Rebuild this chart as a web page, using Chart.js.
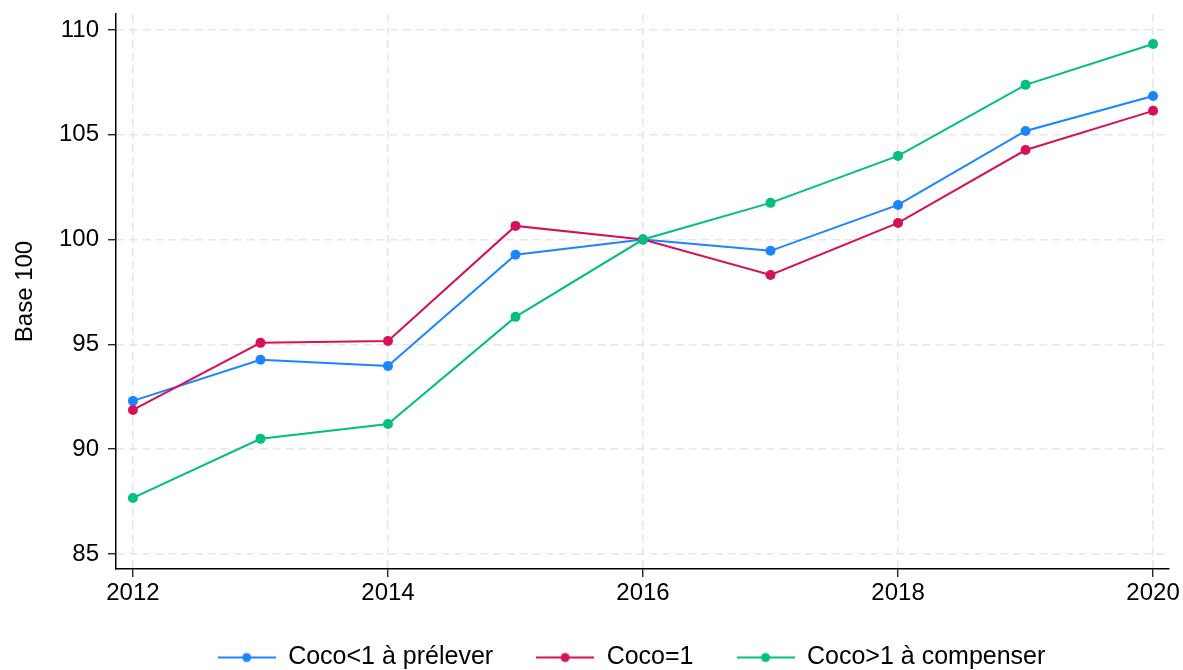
<!DOCTYPE html>
<html>
<head>
<meta charset="utf-8">
<script src="https://cdn.jsdelivr.net/npm/chart.js@4.4.1/dist/chart.umd.min.js"></script>
<style>
  html, body { margin: 0; padding: 0; background: #fff; }
  #wrap { width: 1183px; height: 670px; }
</style>
</head>
<body>
<div id="wrap"><canvas id="chart" width="1183" height="670"></canvas></div>
<script>
// Data (base 100 = 2016)
const years = [2012, 2013, 2014, 2015, 2016, 2017, 2018, 2019, 2020];
const cocoBelow = [92.30, 94.26, 93.97, 99.27, 100, 99.46, 101.65, 105.18, 106.85];
const cocoEqual = [91.87, 95.07, 95.16, 100.65, 100, 98.31, 100.79, 104.27, 106.14];
const cocoAbove = [87.67, 90.49, 91.20, 96.31, 100, 101.75, 103.99, 107.38, 109.33];

const xTicks = [2012, 2014, 2016, 2018, 2020];
const yTicks = [85, 90, 95, 100, 105, 110];

const COLORS = {
  below: '#1a85ff',
  equal: '#d41159',
  above: '#00bf7f',
};

const FONT = 'Liberation Sans, Arial, Helvetica, sans-serif';

/** Small line-with-dot swatch for the legend. */
function legendSwatch(color) {
  const c = document.createElement('canvas');
  c.width = 58;
  c.height = 12;
  const ctx = c.getContext('2d');
  ctx.strokeStyle = color;
  ctx.lineWidth = 2;
  ctx.beginPath();
  ctx.moveTo(0, 6);
  ctx.lineTo(58, 6);
  ctx.stroke();
  ctx.fillStyle = color;
  ctx.beginPath();
  ctx.arc(29, 6, 4.5, 0, Math.PI * 2);
  ctx.fill();
  return c;
}

function series(label, values, color, order) {
  return {
    label,
    data: years.map((y, i) => ({ x: y, y: values[i] })),
    borderColor: color,
    backgroundColor: color,
    pointBackgroundColor: color,
    pointBorderWidth: 0,
    pointRadius: 5,
    pointStyle: 'circle',
    borderWidth: 2,
    tension: 0,
    order,
  };
}

const gridCommon = {
  color: '#e6e6e6',
  lineWidth: 1.5,
  tickColor: '#000',
  tickLength: 8,
  tickWidth: 1.2,
  tickBorderDash: [],
};

// Nudge the legend a little left of the plot-area centre, as in the original
const legendShift = {
  id: 'legendShift',
  afterLayout(chart) {
    if (chart.legend) {
      chart.legend.left -= 11;
      chart.legend.right -= 11;
    }
  },
};

new Chart(document.getElementById('chart'), {
  type: 'line',
  data: {
    datasets: [
      series('Coco<1 à prélever', cocoBelow, COLORS.below, 3),
      series('Coco=1', cocoEqual, COLORS.equal, 2),
      series('Coco>1 à compenser', cocoAbove, COLORS.above, 1),
    ],
  },
  plugins: [legendShift],
  options: {
    responsive: false,
    animation: false,
    layout: { padding: { top: 14, right: 14, left: 0, bottom: -10 } },
    plugins: {
      tooltip: { enabled: false },
      legend: {
        position: 'bottom',
        fullSize: false,
        labels: {
          usePointStyle: true,
          pointStyleWidth: 58,
          boxHeight: 12,
          padding: 43,
          color: '#000',
          font: { family: FONT, size: 25 },
          generateLabels: (chart) => {
            const items = Chart.defaults.plugins.legend.labels.generateLabels(chart);
            items.forEach((it) => {
              it.pointStyle = legendSwatch(chart.data.datasets[it.datasetIndex].borderColor);
            });
            return items.sort((a, b) => a.datasetIndex - b.datasetIndex);
          },
        },
      },
    },
    scales: {
      x: {
        type: 'linear',
        min: 2011.867,
        max: 2020.125,
        afterBuildTicks: (scale) => { scale.ticks = xTicks.map(v => ({ value: v })); },
        afterFit: (scale) => {
          scale.height = 33;
          scale.paddingLeft = 0;
          scale.paddingRight = 0;
        },
        grid: { ...gridCommon, offset: false },
        border: { display: true, color: '#000', width: 1.5, dash: [8, 5] },
        ticks: {
          color: '#000',
          font: { family: FONT, size: 24 },
          padding: 2,
          maxRotation: 0,
          callback: (v) => String(v),
        },
      },
      y: {
        min: 84.28,
        max: 110.76,
        afterBuildTicks: (scale) => { scale.ticks = yTicks.map(v => ({ value: v })); },
        afterFit: (scale) => {
          scale.width = 116;
          scale.paddingTop = 0;
          scale.paddingBottom = 0;
        },
        grid: { ...gridCommon },
        border: { display: true, color: '#000', width: 1.5, dash: [8, 5] },
        title: {
          display: true,
          text: 'Base 100',
          color: '#000',
          font: { family: FONT, size: 24 },
          padding: { top: 11, bottom: 4 },
        },
        ticks: {
          color: '#000',
          font: { family: FONT, size: 24 },
          padding: 9,
        },
      },
    },
  },
});
</script>
</body>
</html>
